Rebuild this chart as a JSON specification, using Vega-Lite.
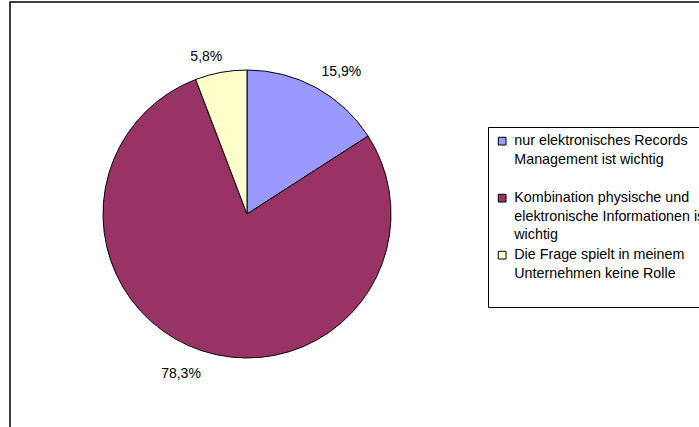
{
  "$schema": "https://vega.github.io/schema/vega-lite/v6.json",
  "width": 700,
  "height": 440,
  "autosize": {"type": "none"},
  "padding": {"left": 10, "top": 2, "right": 0, "bottom": 0},
  "background": "white",
  "view": {"stroke": "#000000", "strokeWidth": 1.5},
  "config": {
    "view": {"stroke": "#000000", "strokeWidth": 1.5},
    "font": "Liberation Sans",
    "style": {"guide-label": {"lineHeight": 18.5}}
  },
  "data": {
    "values": [
      {"Antwort": "nur elektronisches Records Management ist wichtig", "Anteil": 15.9, "Label": "15,9%", "Ord": 1},
      {"Antwort": "Kombination physische und elektronische Informationen ist wichtig", "Anteil": 78.3, "Label": "78,3%", "Ord": 2},
      {"Antwort": "Die Frage spielt in meinem Unternehmen keine Rolle", "Anteil": 5.8, "Label": "5,8%", "Ord": 3}
    ]
  },
  "encoding": {
    "theta": {"field": "Anteil", "type": "quantitative", "stack": true},
    "order": {"field": "Ord", "type": "quantitative"}
  },
  "layer": [
    {
      "mark": {"type": "arc", "outerRadius": 144, "stroke": "#000000", "strokeWidth": 1, "x": 237, "y": 212},
      "encoding": {
        "color": {
          "field": "Antwort",
          "type": "nominal",
          "sort": ["nur elektronisches Records Management ist wichtig", "Kombination physische und elektronische Informationen ist wichtig", "Die Frage spielt in meinem Unternehmen keine Rolle"],
          "scale": {
            "domain": ["nur elektronisches Records Management ist wichtig", "Kombination physische und elektronische Informationen ist wichtig", "Die Frage spielt in meinem Unternehmen keine Rolle"],
            "range": ["#9999FF", "#993366", "#FFFFCC"]
          },
          "legend": {
            "title": null,
            "orient": "none",
            "legendX": 478,
            "legendY": 125,
            "strokeColor": "#000000",
            "padding": 7,
            "symbolType": "square",
            "symbolSize": 60,
            "symbolStrokeColor": "#000000",
            "symbolStrokeWidth": 1,
            "labelFont": "Liberation Sans",
            "labelFontSize": 14.3,
            "labelColor": "#000000",
            "labelLimit": 0,
            "labelOffset": 5,
            "rowPadding": 5,
            "labelExpr": "datum.label == 'nur elektronisches Records Management ist wichtig' ? ['nur elektronisches Records', 'Management ist wichtig', ' '] : datum.label == 'Kombination physische und elektronische Informationen ist wichtig' ? ['Kombination physische und', 'elektronische Informationen ist', 'wichtig'] : ['Die Frage spielt in meinem', 'Unternehmen keine Rolle', ' ']"
          }
        }
      }
    },
    {
      "mark": {"type": "text", "radius": 164, "align": "left", "dx": -4, "dy": 1, "font": "Liberation Sans", "fontSize": 14, "color": "#000000", "x": 237, "y": 213},
      "encoding": {
        "text": {"condition": {"test": "datum.Ord == 1", "field": "Label"}, "value": ""}
      }
    },
    {
      "mark": {"type": "text", "radius": 164, "align": "right", "dx": 5, "dy": 3, "font": "Liberation Sans", "fontSize": 14, "color": "#000000", "x": 237, "y": 213},
      "encoding": {
        "text": {"condition": {"test": "datum.Ord != 1", "field": "Label"}, "value": ""}
      }
    }
  ]
}
